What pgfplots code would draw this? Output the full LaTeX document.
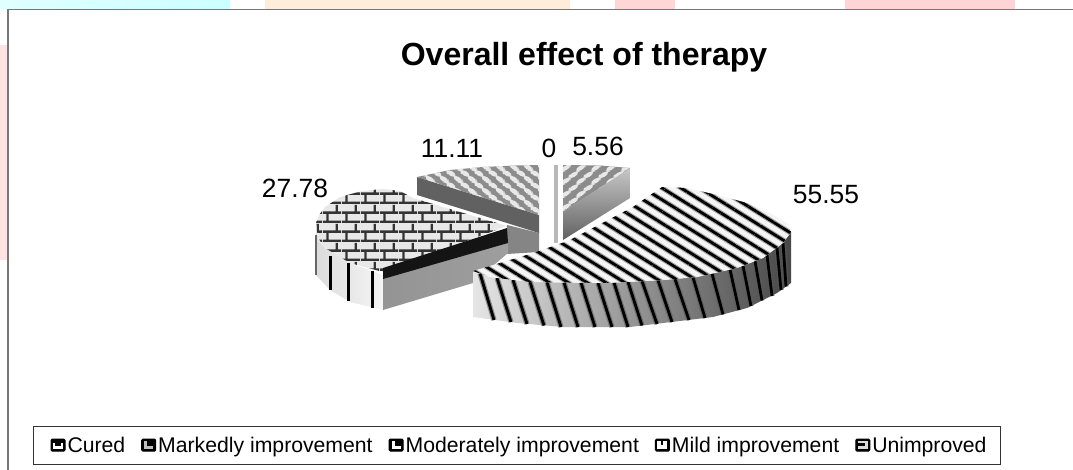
\documentclass[border=0pt]{standalone}
\usepackage{fontspec}
\setmainfont{Liberation Sans}
\usepackage{pgfplots}
\usepackage{pgfplotstable}
\pgfplotsset{compat=1.18}
\usetikzlibrary{patterns,patterns.meta}
\definecolor{frameg}{HTML}{777777}
\definecolor{cellc}{HTML}{E8E8E8}
\pgfdeclarepatternformonly{brickp}{\pgfqpoint{0pt}{0pt}}{\pgfqpoint{19pt}{19pt}}{\pgfqpoint{19pt}{19pt}}{%
 \pgfpathrectangle{\pgfqpoint{0pt}{0pt}}{\pgfqpoint{19pt}{2.6pt}}%
 \pgfpathrectangle{\pgfqpoint{0pt}{9.5pt}}{\pgfqpoint{19pt}{2.6pt}}%
 \pgfpathrectangle{\pgfqpoint{3.6pt}{2pt}}{\pgfqpoint{2.4pt}{8pt}}%
 \pgfpathrectangle{\pgfqpoint{13.1pt}{11.5pt}}{\pgfqpoint{2.4pt}{7.5pt}}%
 \pgfusepath{fill}}
\newcommand{\cellA}[2]{\pgfpathellipse{\pgfqpoint{#1pt}{#2pt}}{\pgfqpoint{4.3pt}{-2.6pt}}{\pgfqpoint{1.3pt}{2.2pt}}}
\pgfdeclarepatternformonly{shingleA}{\pgfqpoint{0pt}{0pt}}{\pgfqpoint{14pt}{12pt}}{\pgfqpoint{14pt}{12pt}}{%
 \cellA{3.5}{9}\cellA{10.5}{3}\cellA{-3.5}{3}\cellA{17.5}{9}\cellA{3.5}{-3}\cellA{10.5}{15}\cellA{17.5}{-3}\cellA{-3.5}{15}%
 \pgfusepath{fill}}
\newcommand{\cellB}[2]{\pgfpathellipse{\pgfqpoint{#1pt}{#2pt}}{\pgfqpoint{4.6pt}{2.8pt}}{\pgfqpoint{-1.2pt}{2pt}}}
\pgfdeclarepatternformonly{shingleB}{\pgfqpoint{0pt}{0pt}}{\pgfqpoint{15pt}{13pt}}{\pgfqpoint{15pt}{13pt}}{%
 \cellB{3.75}{9.75}\cellB{11.25}{3.25}\cellB{-3.75}{3.25}\cellB{18.75}{9.75}\cellB{3.75}{-3.25}\cellB{11.25}{16.25}\cellB{18.75}{-3.25}\cellB{-3.75}{16.25}%
 \pgfusepath{fill}}
% legend keys: a black block with light openings
\newcommand{\keyimg}[1]{\addlegendimage{legend image code/.code={%
   \fill[black,rounded corners=1.2pt] (0pt,-6pt) rectangle (14pt,6pt);#1}}}
\pgfplotstableread{
x y
480 273.5
494 320
nan nan
497 278
511 322
nan nan
513 280
527 324
nan nan
530 282
544 325.5
nan nan
547 282.2
561 327
nan nan
564 282.5
578 327
nan nan
581 282.7
595 327
nan nan
598 283
612 327
nan nan
614 282.6
628 327
nan nan
628 281.9
642 325.5
nan nan
642 281.1
657 324
nan nan
658 280.3
672 322
nan nan
675 279
689 320
nan nan
693 277.4
705 318
nan nan
712 273.6
723 314.4
nan nan
730 269.6
739 310
nan nan
743 265.7
751 306
nan nan
755 261
762 300.5
nan nan
767 255
772 296
nan nan
777 247.5
781 290
nan nan
783 243
786 286.5
}\sidestripes
\pgfplotstableread{
x y
473 271
510 260
530 254
568 241
633 207
662 187
687 188
717 195
747 203
770 213
787 223
791 232
783 243
763 258
737 268
697 277
663 280
607 283
530 282
490 277
}\bigtop
\pgfplotstableread{
x y
316 223
319 215
325 207
340 197
362 191
383 189
400 191
413 198
507 226
383 272
350 263
325 248
318 238
}\bricktop
\begin{document}
\begin{tikzpicture}
\begin{axis}[
  at={(0pt,0pt)}, anchor=south west,
  width=1073pt, height=470pt, scale only axis,
  xmin=0, xmax=1073, ymin=0, ymax=470, y dir=reverse,
  hide axis, clip=true,
  unbounded coords=jump,
  every axis plot/.append style={forget plot},
  legend style={at={(axis cs:33,464.5)}, anchor=south west, draw=black!80, line width=1pt,
    legend columns=5, font=\fontsize{21.2}{25}\selectfont, inner xsep=12pt, inner ysep=8.5pt,
    /tikz/every even column/.append style={column sep=14pt},
    /tikz/column 10/.style={column sep=6pt}},
  legend cell align=left,
]
% watermark strips outside the frame
\addplot[draw=none,left color=cyan!12,right color=cyan!20!white] coordinates {(0,0)(230,0)(230,9)(0,9)} --cycle;
\addplot[draw=none,fill=orange!14] coordinates {(265,0)(570,0)(570,9)(265,9)} --cycle;
\addplot[draw=none,fill=red!16] coordinates {(615,0)(675,0)(675,9)(615,9)} --cycle;
\addplot[draw=none,fill=red!17] coordinates {(845,0)(1015,0)(1015,9)(845,9)} --cycle;
\addplot[draw=none,fill=red!11] coordinates {(0,45)(7,45)(7,260)(0,260)} --cycle;
% frame
\addplot[draw=frameg,line width=1.6pt] coordinates {(8,470)(8,9.5)(1073,9.5)};

% --- 11.11 inner face
\addplot[draw=none,fill=black!48] coordinates {(507,225)(539,233)(539,252)(507,254)} --cycle;
% --- 27.78 side
\addplot[draw=none,left color=black!14,right color=black!4] coordinates {(316,223)(318,240)(325,248)(350,263)(383,275)(383,310)(350,302)(330,290)(316,275)} --cycle;
\addplot[draw=black,line width=3pt] coordinates {(330,256)(330,290) (nan,nan) (348,263)(348,301) (nan,nan) (372,271)(372,308)};
\addplot[draw=black!60,line width=1.5pt] coordinates {(316,275)(316,235)};
% --- 27.78 front face
\addplot[draw=none,left color=black!42,right color=black!38] coordinates {(383,275)(508,240)(508,253)(473,283)(383,310)} --cycle;
% --- 27.78 top
\addplot[draw=none,fill=cellc] table {\bricktop} --cycle;
\addplot[draw=none,pattern=brickp,pattern color=black!80] table {\bricktop} --cycle;
% --- 27.78 dark band
\addplot[draw=none,fill=black!92] coordinates {(383,268)(507,228)(508,243)(383,279)} --cycle;
% --- 11.11 side
\addplot[draw=none,fill=black!62] coordinates {(417,177)(539,215)(539,233)(417,195)} --cycle;
% --- 11.11 top
\addplot[draw=none,fill=black!45] coordinates {(417,177)(450,170)(483,167)(515,165.5)(539,165)(539,215)} --cycle;
\addplot[draw=none,pattern=shingleA,pattern color=cellc] coordinates {(417,177)(450,170)(483,167)(515,165.5)(539,165)(539,215)} --cycle;
% --- 0
\addplot[draw=none,fill=black!28] coordinates {(554,165)(558,165)(558,243)(554,243)} --cycle;
% --- 5.56 side
\addplot[draw=none,top color=black!22,bottom color=black!62] coordinates {(630,168)(630,198)(563,240)(563,212)} --cycle;
% --- 5.56 top
\addplot[draw=none,fill=black!45] coordinates {(563,165)(600,165.5)(630,168)(563,212)} --cycle;
\addplot[draw=none,pattern=shingleB,pattern color=cellc] coordinates {(563,165)(600,165.5)(630,168)(563,212)} --cycle;
% --- 55.55 side
\addplot[draw=none,left color=black!10,middle color=black!38,right color=black!72] coordinates {(473,271)(490,277)(530,282)(607,283)(663,280)(697,277)(737,268)(763,258)(783,243)(791,232)(791,283)(777,293)(747,308)(713,317)(663,323)(630,327)(563,327)(517,323)(473,317)} --cycle;
\addplot[draw=black!65,opacity=.6,line width=5.2pt] table {\sidestripes};
\addplot[draw=black,line width=2.8pt] table {\sidestripes};
% --- 55.55 top
\addplot[draw=none,fill=black!4] table {\bigtop} --cycle;
\addplot[draw=none,pattern={Lines[angle=-32,distance=10pt,line width=5pt]},pattern color=black!35] table {\bigtop} --cycle;
\addplot[draw=none,pattern={Lines[angle=-32,distance=10pt,line width=2.8pt]},pattern color=black] table {\bigtop} --cycle;

% texts
\node[font=\fontsize{32}{36}\selectfont\bfseries] at (axis cs:584,57.5) {Overall effect of therapy};
\node[font=\fontsize{26.4}{30}\selectfont] at (axis cs:295,188) {27.78};
\node[font=\fontsize{26.4}{30}\selectfont] at (axis cs:452,148) {11.11};
\node[font=\fontsize{26.4}{30}\selectfont] at (axis cs:549,148) {0};
\node[font=\fontsize{26.4}{30}\selectfont] at (axis cs:598,146) {5.56};
\node[font=\fontsize{26.4}{30}\selectfont] at (axis cs:826,195) {55.55};

% legend
\keyimg{\path (-5pt,0pt); \fill[white] (2.5pt,-3.5pt) rectangle (11.5pt,2pt); \fill[black] (4.5pt,0pt) rectangle (9.5pt,3pt);}\addlegendentry{Cured}
\keyimg{\fill[black!25] (3pt,-3.5pt) rectangle (11pt,3.5pt); \fill[black] (6pt,-.5pt) rectangle (11pt,3.5pt);}\addlegendentry{Markedly improvement}
\keyimg{\fill[white] (3pt,-3.5pt) rectangle (11pt,3.5pt); \fill[black] (6.5pt,-.5pt) rectangle (11pt,3.5pt);}\addlegendentry{Moderately improvement}
\keyimg{\fill[white] (2.5pt,-3.5pt) rectangle (11.5pt,-.8pt); \fill[white] (2.5pt,.8pt) rectangle (5.5pt,3.5pt); \fill[white] (8.5pt,.8pt) rectangle (11.5pt,3.5pt);}\addlegendentry{Mild improvement}
\keyimg{\fill[black!15] (2.5pt,-3.5pt) rectangle (11.5pt,3.5pt); \fill[black] (2.5pt,-.5pt) rectangle (9pt,1.5pt);}\addlegendentry{Unimproved}
\end{axis}
\end{tikzpicture}
\end{document}
